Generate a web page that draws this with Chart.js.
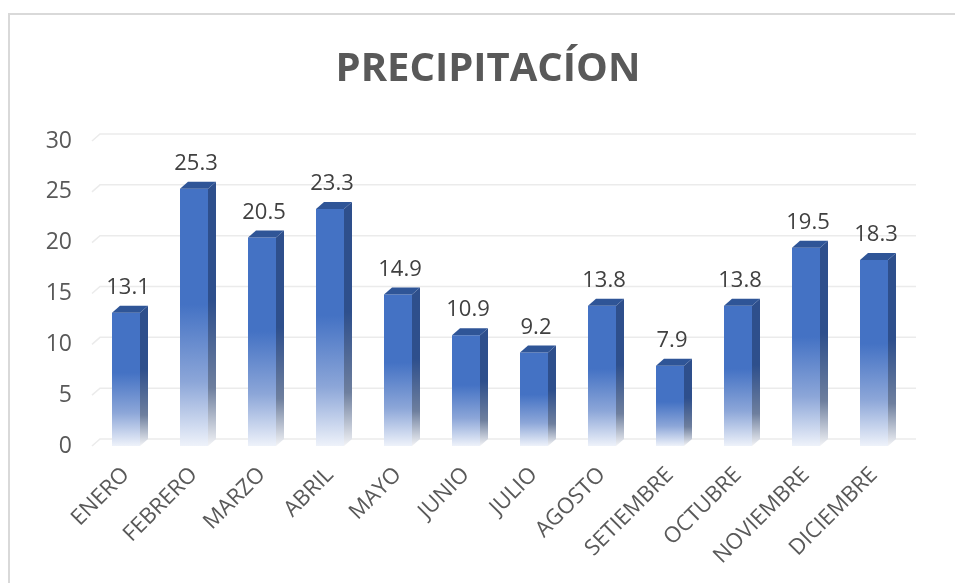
<!DOCTYPE html>
<html>
<head>
<meta charset="utf-8">
<script src="https://cdn.jsdelivr.net/npm/chart.js@4/dist/chart.umd.min.js"></script>
<style>
  html, body { margin: 0; padding: 0; background: #ffffff; overflow: hidden; width: 955px; height: 583px; }
  #frame { position: absolute; left: 8px; top: 13px; width: 956px; height: 580px; border-left: 2px solid #D9D9D9; border-top: 2px solid #D9D9D9; background: #fff; }
  #wrap { position: absolute; left: 0; top: 0; width: 956px; height: 570px; }
</style>
</head>
<body>
<div id="frame"><div id="wrap"><canvas id="c"></canvas></div></div>
<script>
const titleText = 'PRECIPITACÍON';
const categories = ['ENERO','FEBRERO','MARZO','ABRIL','MAYO','JUNIO','JULIO','AGOSTO','SETIEMBRE','OCTUBRE','NOVIEMBRE','DICIEMBRE'];
const precipitation = [13.1, 25.3, 20.5, 23.3, 14.9, 10.9, 9.2, 13.8, 7.9, 13.8, 19.5, 18.3];
const yMin = 0, yMax = 30, yStep = 5;

const DX = 8, DY = 7;

function frontGradient(ctx, top, base) {
  const g = ctx.createLinearGradient(0, top, 0, base);
  g.addColorStop(0, '#4472C4');
  g.addColorStop(0.45, '#4472C4');
  g.addColorStop(0.75, '#8CA6D8');
  g.addColorStop(1, '#EEF2FA');
  return g;
}
function sideGradient(ctx, top, base) {
  const g = ctx.createLinearGradient(0, top, 0, base);
  g.addColorStop(0, '#2E4F8C');
  g.addColorStop(0.45, '#2E4F8C');
  g.addColorStop(0.78, '#6E7F9E');
  g.addColorStop(1, '#F2F3F6');
  return g;
}

const depthPlugin = {
  id: 'depth',
  beforeDatasetsDraw(chart) {
    const ctx = chart.ctx, y = chart.scales.y, a = chart.chartArea;
    ctx.save();
    ctx.strokeStyle = '#EBEBEB';
    ctx.lineWidth = 1.5;
    for (let v = yMin; v <= yMax; v += yStep) {
      const py = y.getPixelForValue(v);
      ctx.beginPath();
      ctx.moveTo(a.left, py);
      ctx.lineTo(a.left + DX, py - DY);
      ctx.lineTo(a.right + DX, py - DY);
      ctx.stroke();
    }
    ctx.restore();
  },
  afterDatasetsDraw(chart) {
    const ctx = chart.ctx;
    const meta = chart.getDatasetMeta(0);
    ctx.save();
    meta.data.forEach((bar, i) => {
      const { x, y, base, width } = bar.getProps(['x', 'y', 'base', 'width'], true);
      const l = x - width / 2, r = x + width / 2;
      ctx.beginPath();
      ctx.moveTo(r, y);
      ctx.lineTo(r + DX, y - DY);
      ctx.lineTo(r + DX, base - DY);
      ctx.lineTo(r, base);
      ctx.closePath();
      ctx.fillStyle = sideGradient(ctx, y - DY, base);
      ctx.fill();
      ctx.beginPath();
      ctx.moveTo(l, y);
      ctx.lineTo(l + DX, y - DY);
      ctx.lineTo(r + DX, y - DY);
      ctx.lineTo(r, y);
      ctx.closePath();
      ctx.fillStyle = '#2F5597';
      ctx.fill();
      ctx.fillStyle = '#404040';
      ctx.font = '22px "Open Sans"';
      ctx.textAlign = 'center';
      ctx.textBaseline = 'middle';
      ctx.fillText(precipitation[i].toFixed(1), x + 2, y - DY - 18);
    });
    ctx.restore();
  },
  afterDraw(chart) {
    const ctx = chart.ctx;
    ctx.save();
    ctx.fillStyle = '#595959';
    ctx.font = 'bold 40px "Open Sans"';
    ctx.textAlign = 'center';
    ctx.textBaseline = 'alphabetic';
    ctx.fillText(titleText, 478, 66);
    ctx.restore();
  }
};

new Chart(document.getElementById('c'), {
  type: 'bar',
  data: {
    labels: categories,
    datasets: [{
      data: precipitation,
      backgroundColor: (c) => {
        const chart = c.chart;
        if (!chart.chartArea || c.raw === undefined) return '#4472C4';
        const ys = chart.scales.y;
        return frontGradient(chart.ctx, ys.getPixelForValue(c.raw), ys.getPixelForValue(0));
      },
      borderWidth: 0,
      categoryPercentage: 1,
      barPercentage: 28 / 68
    }]
  },
  options: {
    responsive: true,
    maintainAspectRatio: false,
    animation: false,
    layout: { padding: { left: 0, right: 58, top: 126, bottom: 0 } },
    plugins: {
      legend: { display: false },
      tooltip: { enabled: false },
      title: { display: false }
    },
    scales: {
      x: {
        grid: { display: false, drawTicks: false },
        border: { display: false },
        ticks: {
          color: '#595959',
          font: { family: 'Open Sans', size: 22 },
          minRotation: 45, maxRotation: 45,
          autoSkip: false,
          padding: 16
        },
        afterFit(s) { s.height = 139; }
      },
      y: {
        min: yMin, max: yMax,
        grid: { display: false, drawTicks: false },
        border: { display: false },
        ticks: {
          stepSize: yStep,
          color: '#595959',
          font: { family: 'Open Sans', size: 23 },
          padding: 20
        },
        afterFit(s) { s.width = 82; }
      }
    }
  },
  plugins: [depthPlugin]
});
</script>
</body>
</html>
